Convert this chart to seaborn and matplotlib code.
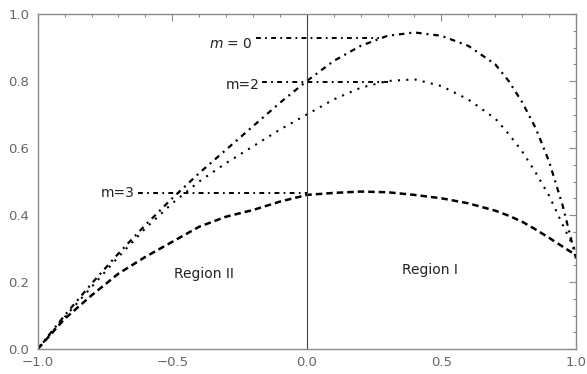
import matplotlib
matplotlib.use("Agg")
import matplotlib.pyplot as plt
from matplotlib.ticker import MultipleLocator
import numpy as np
import pandas as pd
import seaborn as sns

# Sampled profiles on a common grid
x_grid = [-1.0, -0.9, -0.8, -0.7, -0.6, -0.5, -0.4, -0.3, -0.2, -0.1, 0.0,
          0.1, 0.2, 0.3, 0.4, 0.5, 0.6, 0.7, 0.75, 0.8, 0.85, 0.9, 0.95, 1.0]
m0_values = [0.0, 0.10, 0.195, 0.285, 0.37, 0.45, 0.525, 0.595, 0.665, 0.735, 0.80,
             0.86, 0.905, 0.935, 0.945, 0.935, 0.905, 0.85, 0.80, 0.737, 0.66, 0.56, 0.43, 0.27]
m2_values = [0.0, 0.095, 0.185, 0.275, 0.36, 0.435, 0.50, 0.555, 0.605, 0.655, 0.70,
             0.745, 0.78, 0.80, 0.805, 0.785, 0.745, 0.688, 0.642, 0.59, 0.527, 0.458, 0.372, 0.29]
m3_values = [0.0, 0.09, 0.16, 0.225, 0.275, 0.32, 0.365, 0.395, 0.415, 0.44, 0.46,
             0.466, 0.47, 0.468, 0.46, 0.45, 0.435, 0.413, 0.398, 0.38, 0.357, 0.332, 0.306, 0.28]

# Curve labels and the levels of their leader lines
curve_labels = ["$m$ = 0", "m=2", "m=3"]
leader_levels = [0.928, 0.797, 0.465]
leader_starts = [-0.19, -0.165, -0.628]
leader_ends = [0.27, 0.30, 0.0]
text_levels = [0.911, 0.788, 0.465]

region_labels = ["Region II", "Region I"]

df = pd.DataFrame({
    "x": x_grid * 3,
    "y": m0_values + m2_values + m3_values,
    "curve": ["m0"] * len(x_grid) + ["m2"] * len(x_grid) + ["m3"] * len(x_grid),
})

sns.set_style("white")
plt.rcParams["font.family"] = ["DejaVu Sans"]
plt.rcParams["mathtext.fontset"] = "custom"
plt.rcParams["mathtext.it"] = "DejaVu Sans:italic"
plt.rcParams["mathtext.rm"] = "DejaVu Sans"

fig = plt.figure(figsize=(5.87, 3.74), dpi=100)
ax = fig.add_axes([0.0642, 0.0668, 0.917, 0.8957])

styles = {
    "m0": dict(lw=1.6, linestyle=(0, (2.5, 2.2, 0.9, 2.2))),
    "m2": dict(lw=1.5, linestyle=(0, (1.0, 3.0))),
    "m3": dict(lw=1.8, linestyle=(0, (2.6, 1.6))),
}
for name, kw in styles.items():
    sns.lineplot(data=df[df["curve"] == name], x="x", y="y", ax=ax,
                 color="black", sort=False, estimator=None, legend=False,
                 dash_capstyle="butt", **kw)

# Leader lines from each label to its curve
for y0, xs, xe in zip(leader_levels, leader_starts, leader_ends):
    ax.plot([xs, xe], [y0, y0], color="black", lw=1.4,
            linestyle=(0, (2.5, 2.2, 0.9, 2.2)), dash_capstyle="butt")

for lab, ty, xs in zip(curve_labels, text_levels, leader_starts):
    ax.text(xs - 0.012, ty, lab, ha="right", va="center", fontsize=10, color="#222222")

ax.text(-0.383, 0.224, region_labels[0], ha="center", va="center", fontsize=10, color="#222222")
ax.text(0.457, 0.236, region_labels[1], ha="center", va="center", fontsize=10, color="#222222")

ax.axvline(0.0, color="#444444", lw=0.8)

ax.set_xlim(-1.0, 1.0)
ax.set_ylim(0.0, 1.0)
ax.set_xlabel("")
ax.set_ylabel("")

ax.xaxis.set_major_locator(MultipleLocator(0.5))
ax.xaxis.set_minor_locator(MultipleLocator(0.1))
ax.yaxis.set_major_locator(MultipleLocator(0.2))
ax.yaxis.set_minor_locator(MultipleLocator(0.05))

frame_col = "#8a8a8a"
for sp in ax.spines.values():
    sp.set_visible(True)
    sp.set_color(frame_col)
    sp.set_linewidth(1.0)

ax.tick_params(which="both", direction="in", top=True, right=True,
               color=frame_col, width=0.8)
ax.tick_params(which="major", length=5)
ax.tick_params(which="minor", length=2.5)
ax.tick_params(axis="x", which="major", pad=5, labelsize=9.5, labelcolor="#666666")
ax.tick_params(axis="y", which="major", pad=6, labelsize=9.5, labelcolor="#666666")

fig.savefig("out.png", dpi=100)
